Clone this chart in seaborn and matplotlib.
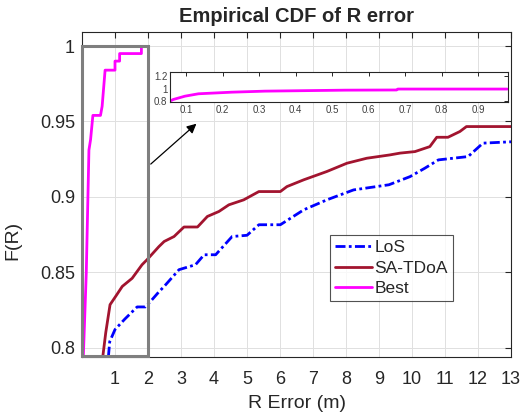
import matplotlib
matplotlib.use("Agg")
import matplotlib.pyplot as plt
from matplotlib.patches import Rectangle
from matplotlib.ticker import FormatStrFormatter
import numpy as np
import pandas as pd
import seaborn as sns

#%% Data
los_x = [0.80, 0.84, 1.00, 1.30, 1.67, 1.92, 2.13, 2.33, 2.49, 2.94, 3.44, 3.70, 4.05, 4.55,
         5.00, 5.36, 5.71, 6.01, 6.72, 7.42, 8.23, 9.30, 9.94, 10.39, 10.80, 11.70, 12.15, 13.0]
los_y = [0.794, 0.804, 0.812, 0.819, 0.827, 0.827, 0.832, 0.837, 0.8406, 0.8517, 0.855, 0.8616,
         0.8616, 0.8737, 0.8745, 0.8815, 0.8815, 0.8815, 0.8914, 0.898, 0.9046, 0.908, 0.9134,
         0.919, 0.9245, 0.9267, 0.9356, 0.9365]

sa_x = [0.63, 0.72, 0.85, 1.02, 1.22, 1.52, 1.82, 1.97, 2.33, 2.49, 2.79, 3.09, 3.50, 3.80,
        4.15, 4.45, 4.90, 5.36, 5.71, 6.01, 6.21, 6.72, 7.42, 8.03, 8.63, 9.33, 9.64, 10.09,
        10.54, 10.75, 11.09, 11.45, 11.65, 13.0]
sa_y = [0.794, 0.81, 0.8285, 0.834, 0.8406, 0.846, 0.855, 0.8583, 0.867, 0.8704, 0.8737, 0.880,
        0.880, 0.887, 0.8903, 0.8947, 0.898, 0.9035, 0.9035, 0.9035, 0.9068, 0.9113, 0.9168,
        0.9223, 0.9256, 0.9278, 0.929, 0.930, 0.9333, 0.9395, 0.9395, 0.9433, 0.9466, 0.9466]

best_x = [0.04, 0.13, 0.21, 0.26, 0.33, 0.56, 0.61, 0.70, 1.00, 1.00, 1.14, 1.14, 1.80, 1.80]
best_y = [0.794, 0.85, 0.931, 0.938, 0.954, 0.954, 0.960, 0.984, 0.984, 0.990, 0.990, 0.995,
          0.995, 0.9995]

# zoomed view of Best (inset)
ins_x = [0.056, 0.065, 0.097, 0.134, 0.225, 0.316, 0.536, 0.677, 0.68, 0.98]
ins_y = [0.80, 0.825, 0.879, 0.918, 0.944, 0.961, 0.977, 0.98, 0.995, 0.995]

x_ticks = list(range(1, 14))
y_ticks = [0.8, 0.85, 0.9, 0.95, 1.0]
ins_xticks = [0.1, 0.2, 0.3, 0.4, 0.5, 0.6, 0.7, 0.8, 0.9]
ins_yticks = [0.8, 1.0, 1.2]

#%% Figure
sns.set_style("whitegrid")
plt.rcParams['font.family'] = ['Liberation Sans', 'DejaVu Sans']
dark = '#262626'

fig = plt.figure(figsize=(5.2, 4.19), dpi=100)
ax = fig.add_axes([82/520, 1 - 357/419, (511 - 82)/520, (357 - 32)/419])

sns.lineplot(x=los_x, y=los_y, ax=ax, sort=False, estimator=None, color='blue',
             linewidth=2, label='LoS', dashes=False)
ax.lines[-1].set_dashes((3.6, 1.2, 1.0, 1.2))
sns.lineplot(x=sa_x, y=sa_y, ax=ax, sort=False, estimator=None, color='#A2142F',
             linewidth=2, label='SA-TDoA')
sns.lineplot(x=best_x, y=best_y, ax=ax, sort=False, estimator=None, color='magenta',
             linewidth=2, label='Best')

ax.set_xlim(0, 13)
ax.set_ylim(0.7938, 1.0093)
ax.set_xticks(x_ticks)
ax.set_yticks(y_ticks)
ax.yaxis.set_major_formatter(FormatStrFormatter('%g'))
ax.grid(True, color='#e0e0e0', linewidth=0.7)
ax.set_axisbelow(True)
for s in ax.spines.values():
    s.set_color(dark)
    s.set_linewidth(0.8)
ax.tick_params(direction='in', length=4, width=0.8, top=True, right=True,
               labelsize=13, colors=dark, labelcolor=dark)
ax.tick_params(axis='x', pad=10)
ax.tick_params(axis='y', pad=5)

ax.set_title('Empirical CDF of R error', fontsize=14.5, fontweight='bold', pad=7)
ax.set_xlabel('R Error (m)', fontsize=14, color=dark, labelpad=5)
fig.text(13/520, 1 - 240/419, 'F(R)', rotation=90, fontsize=14, color=dark,
         ha='center', va='center')

# zoom rectangle and arrow
ax.add_patch(Rectangle((0, 0.7945), 2, 0.2055, fill=False, edgecolor='#7f7f7f',
                       linewidth=2.2, clip_on=False, zorder=5))
ax.annotate('', xy=(3.53, 0.9497), xytext=(2.02, 0.9205),
            arrowprops=dict(arrowstyle='-|>', color='black', lw=0.9,
                            mutation_scale=14))

leg = ax.legend(loc='upper left', bbox_to_anchor=((330 - 82)/429, 1 - (235 - 32)/325),
                fontsize=12.5, frameon=True, fancybox=False, handlelength=2.1,
                borderpad=0.3, labelspacing=0.3, handletextpad=0.15, borderaxespad=0)
leg.get_frame().set_edgecolor(dark)
leg.get_frame().set_linewidth(0.8)

# inset
axi = fig.add_axes([170/520, 1 - 102/419, (508 - 170)/520, 30/419])
axi.set_facecolor('white')
sns.lineplot(x=ins_x, y=ins_y, ax=axi, sort=False, estimator=None, color='magenta',
             linewidth=2)
axi.set_xlim(0.056, 0.982)
axi.set_ylim(0.784, 1.273)
axi.set_xticks(ins_xticks)
axi.set_yticks(ins_yticks)
axi.yaxis.set_major_formatter(FormatStrFormatter('%g'))
axi.grid(False)
for s in axi.spines.values():
    s.set_color(dark)
    s.set_linewidth(0.8)
axi.tick_params(direction='in', length=3, width=0.7, top=True, right=True,
                labelsize=7, colors=dark, labelcolor='#404040', pad=2)

fig.savefig('out.png', dpi=100)
